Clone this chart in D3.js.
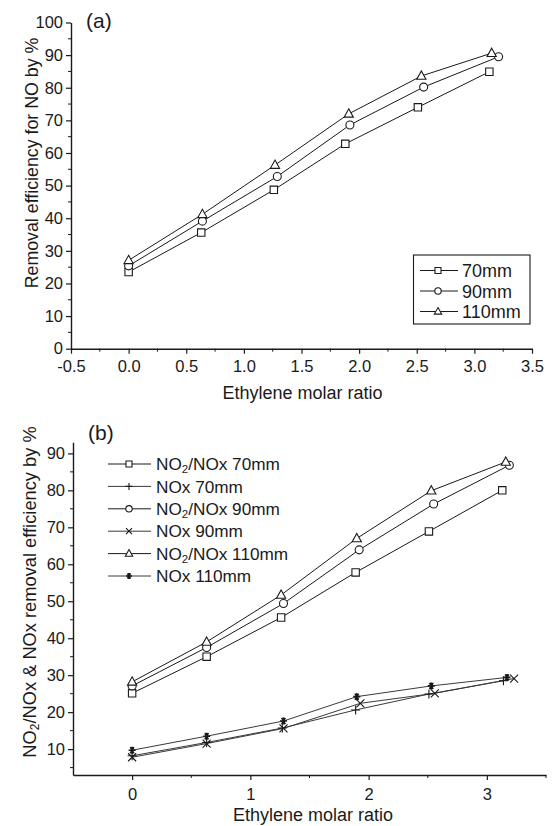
<!DOCTYPE html>
<html>
<head>
<meta charset="utf-8">
<script src="https://cdn.jsdelivr.net/npm/d3@7"></script>
<style>
  html, body { margin: 0; padding: 0; background: #fff; }
  svg { display: block; font-family: "Liberation Sans", Arial, Helvetica, sans-serif; }
</style>
</head>
<body>
<svg id="chart" width="552" height="826"></svg>
<script>
// ---------- Data: panel (a) ----------
const aSeriesNames = ["70mm", "90mm", "110mm"];
const aSymbols = ["square", "circle", "triangle"];
const aX70 = [0, 0.63, 1.26, 1.88, 2.51, 3.13];
const aY70 = [23.5, 35.6, 48.7, 62.8, 74.0, 84.9];
const aX90 = [0, 0.64, 1.29, 1.92, 2.56, 3.21];
const aY90 = [25.4, 39.1, 52.8, 68.6, 80.2, 89.5];
const aX110 = [0, 0.64, 1.27, 1.91, 2.54, 3.15];
const aY110 = [27.1, 41.2, 56.3, 72.0, 83.6, 90.6];
const aXTicks = [-0.5, 0.0, 0.5, 1.0, 1.5, 2.0, 2.5, 3.0, 3.5];
const aYTicks = [0, 10, 20, 30, 40, 50, 60, 70, 80, 90, 100];

// ---------- Data: panel (b) ----------
const bSeriesNames = ["NO2/NOx 70mm", "NOx 70mm", "NO2/NOx 90mm", "NOx 90mm", "NO2/NOx 110mm", "NOx 110mm"];
const bSymbols = ["square", "plus", "circle", "cross", "triangle", "star"];
const bXRatio70 = [0, 0.63, 1.26, 1.89, 2.51, 3.13];
const bYNO2_70 = [25.1, 35.0, 45.6, 57.8, 68.9, 80.0];
const bXNOx70 = [0, 0.63, 1.27, 1.89, 2.51, 3.14];
const bYNOx70 = [8.2, 11.8, 15.7, 20.6, 24.9, 28.5];
const bXRatio90 = [0, 0.63, 1.28, 1.92, 2.55, 3.19];
const bYNO2_90 = [27.1, 37.5, 49.4, 63.9, 76.3, 86.8];
const bXNOx90 = [0, 0.63, 1.28, 1.93, 2.56, 3.23];
const bYNOx90 = [7.8, 11.5, 15.6, 22.4, 25.1, 29.1];
const bXRatio110 = [0, 0.63, 1.26, 1.90, 2.53, 3.16];
const bYNO2_110 = [28.2, 39.0, 51.7, 67.0, 79.9, 87.7];
const bXNOx110 = [0, 0.63, 1.28, 1.90, 2.53, 3.17];
const bYNOx110 = [9.7, 13.5, 17.6, 24.2, 27.1, 29.4];
const bXTicks = [0, 1, 2, 3];
const bYTicks = [10, 20, 30, 40, 50, 60, 70, 80, 90];

const svg = d3.select("#chart");
const ink = "#1a1a1a";
const FONT = "'Liberation Sans', Arial, sans-serif";

function markerPath(type) {
  switch (type) {
    case "square": return "M-3.7,-3.7H3.7V3.7H-3.7Z";
    case "circle": return "M4,0A4,4 0 1,1 -4,0A4,4 0 1,1 4,0Z";
    case "triangle": return "M0,-5L4.6,3.3H-4.6Z";
    case "plus": return "M-4.5,0H4.5M0,-4.5V4.5";
    case "cross": return "M-4,-4L4,4M-4,4L4,-4";
    case "star": return "M-3.5,0H3.5M-1.8,-3.1L1.8,3.1M-1.8,3.1L1.8,-3.1M0,-3.5V3.5";
  }
}
function smallMarkerPath(type) {
  switch (type) {
    case "square": return "M-3,-3H3V3H-3Z";
    case "circle": return "M3.2,0A3.2,3.2 0 1,1 -3.2,0A3.2,3.2 0 1,1 3.2,0Z";
    case "triangle": return "M0,-4L3.7,2.6H-3.7Z";
    case "plus": return "M-3.5,0H3.5M0,-3.5V3.5";
    case "cross": return "M-3,-3L3,3M-3,3L3,-3";
    case "star": return "M-3,0H3M-1.5,-2.6L1.5,2.6M-1.5,2.6L1.5,-2.6M0,-3V3";
  }
}
function drawMarker(g, type, x, y, small) {
  const filled = (type === "square" || type === "circle" || type === "triangle");
  g.append("path")
    .attr("d", small ? smallMarkerPath(type) : markerPath(type))
    .attr("transform", `translate(${x},${y})`)
    .attr("fill", filled ? "#fff" : "none")
    .attr("stroke", ink)
    .attr("stroke-width", type === "star" ? 1.6 : 1.1);
}

function styleAxis(g) {
  g.selectAll("path.domain").attr("stroke", ink).attr("stroke-width", 1.4);
  g.selectAll(".tick line").attr("stroke", ink).attr("stroke-width", 1.2);
  g.selectAll(".tick text").attr("fill", ink).style("font-family", FONT).attr("font-size", 16.5);
}

// ================= Panel (a) =================
{
  const x = d3.scaleLinear().domain([-0.5, 3.5]).range([71, 532]);
  const y = d3.scaleLinear().domain([0, 100]).range([348.7, 22.5]);
  const g = svg.append("g");

  const xMinor = d3.range(-0.25, 3.5, 0.5);
  const yMinor = d3.range(5, 100, 10);
  g.append("g").selectAll("line").data(xMinor).join("line")
    .attr("x1", d => x(d)).attr("x2", d => x(d))
    .attr("y1", y(0)).attr("y2", y(0) + 3)
    .attr("stroke", ink).attr("stroke-width", 1);
  g.append("g").selectAll("line").data(yMinor).join("line")
    .attr("x1", x(-0.5) - 3).attr("x2", x(-0.5))
    .attr("y1", d => y(d)).attr("y2", d => y(d))
    .attr("stroke", ink).attr("stroke-width", 1);

  const xAxis = g.append("g").attr("transform", `translate(0,${y(0)})`)
    .call(d3.axisBottom(x).tickValues(aXTicks).tickFormat(d => d.toFixed(1)).tickSize(5).tickSizeOuter(0));
  styleAxis(xAxis);
  xAxis.selectAll(".tick text").attr("dy", "0.95em");
  const yAxis = g.append("g").attr("transform", `translate(${x(-0.5)},0)`)
    .call(d3.axisLeft(y).tickValues(aYTicks).tickSize(5).tickSizeOuter(0));
  styleAxis(yAxis);

  const series = [
    { xs: aX70, ys: aY70 },
    { xs: aX90, ys: aY90 },
    { xs: aX110, ys: aY110 }
  ];
  const line = d3.line().x(d => x(d[0])).y(d => y(d[1]));
  series.forEach((s) => {
    const pts = s.xs.map((v, k) => [v, s.ys[k]]);
    g.append("path").attr("d", line(pts)).attr("fill", "none")
      .attr("stroke", ink).attr("stroke-width", 1);
  });
  series.forEach((s, i) => {
    s.xs.forEach((v, k) => drawMarker(g, aSymbols[i], x(v), y(s.ys[k]), false));
  });

  g.append("text").attr("x", 86).attr("y", 28).attr("font-size", 21).attr("fill", ink).text("(a)");

  g.append("text").attr("transform", `translate(38,163) rotate(-90)`)
    .attr("text-anchor", "middle").attr("font-size", 17.8).attr("fill", ink)
    .text("Removal efficiency for NO by %");
  g.append("text").attr("x", 302.5).attr("y", 398.5).attr("text-anchor", "middle")
    .attr("font-size", 18).attr("fill", ink).text("Ethylene molar ratio");

  const lg = g.append("g");
  lg.append("rect").attr("x", 413.5).attr("y", 255).attr("width", 116.5).attr("height", 69)
    .attr("fill", "#fff").attr("stroke", ink).attr("stroke-width", 1.1);
  aSeriesNames.forEach((name, i) => {
    const cy = 270.5 + i * 20.5;
    lg.append("line").attr("x1", 420).attr("x2", 458).attr("y1", cy).attr("y2", cy)
      .attr("stroke", ink).attr("stroke-width", 1);
    drawMarker(lg, aSymbols[i], 438, cy, true);
    lg.append("text").attr("x", 462).attr("y", cy + 6.5).attr("font-size", 18)
      .attr("fill", ink).text(name);
  });
}

// ================= Panel (b) =================
{
  const x = d3.scaleLinear().domain([-0.5, 3.5]).range([73, 546]);
  const y = d3.scaleLinear().domain([3, 93]).range([775, 442.3]);
  const g = svg.append("g");

  const xMinor = [0.5, 1.5, 2.5, 3.5];
  const yMinor = d3.range(5, 93, 10);
  g.append("g").selectAll("line").data(xMinor).join("line")
    .attr("x1", d => x(d)).attr("x2", d => x(d))
    .attr("y1", y(3)).attr("y2", y(3) + 3)
    .attr("stroke", ink).attr("stroke-width", 1);
  g.append("g").selectAll("line").data(yMinor).join("line")
    .attr("x1", x(-0.5) - 3).attr("x2", x(-0.5))
    .attr("y1", d => y(d)).attr("y2", d => y(d))
    .attr("stroke", ink).attr("stroke-width", 1);

  const xAxis = g.append("g").attr("transform", `translate(0,${y(3)})`)
    .call(d3.axisBottom(x).tickValues(bXTicks).tickFormat(d3.format("d")).tickSize(5).tickSizeOuter(0));
  styleAxis(xAxis);
  xAxis.selectAll(".tick text").attr("dy", "1em");
  const yAxis = g.append("g").attr("transform", `translate(${x(-0.5)},0)`)
    .call(d3.axisLeft(y).tickValues(bYTicks).tickSize(5).tickSizeOuter(0));
  styleAxis(yAxis);

  const series = [
    { xs: bXRatio70, ys: bYNO2_70 },
    { xs: bXNOx70, ys: bYNOx70 },
    { xs: bXRatio90, ys: bYNO2_90 },
    { xs: bXNOx90, ys: bYNOx90 },
    { xs: bXRatio110, ys: bYNO2_110 },
    { xs: bXNOx110, ys: bYNOx110 }
  ];
  const line = d3.line().x(d => x(d[0])).y(d => y(d[1]));
  series.forEach((s, i) => {
    const pts = s.xs.map((v, k) => [v, s.ys[k]]);
    g.append("path").attr("d", line(pts)).attr("fill", "none")
      .attr("stroke", i % 2 === 1 ? "#3a3a3a" : ink).attr("stroke-width", 1);
  });
  series.forEach((s, i) => {
    s.xs.forEach((v, k) => drawMarker(g, bSymbols[i], x(v), y(s.ys[k]), false));
  });

  g.append("text").attr("x", 88).attr("y", 440).attr("font-size", 21).attr("fill", ink).text("(b)");

  const yt = g.append("text").attr("transform", `translate(36,592) rotate(-90)`)
    .attr("text-anchor", "middle").attr("font-size", 18.3).attr("fill", ink);
  yt.append("tspan").text("NO");
  yt.append("tspan").attr("font-size", 12).attr("dy", 3).text("2");
  yt.append("tspan").attr("dy", -3).text("/NOx & NOx removal efficiency by %");

  g.append("text").attr("x", 313).attr("y", 821).attr("text-anchor", "middle")
    .attr("font-size", 18).attr("fill", ink).text("Ethylene molar ratio");

  bSeriesNames.forEach((name, i) => {
    const cy = 464 + i * 22.4;
    g.append("line").attr("x1", 108).attr("x2", 151).attr("y1", cy).attr("y2", cy)
      .attr("stroke", i % 2 === 1 ? "#3a3a3a" : ink).attr("stroke-width", 1);
    drawMarker(g, bSymbols[i], 129, cy, true);
    const t = g.append("text").attr("x", 156).attr("y", cy + 6.2).attr("font-size", 17.2).attr("fill", ink);
    if (name.startsWith("NO2")) {
      t.append("tspan").text("NO");
      t.append("tspan").attr("font-size", 11.5).attr("dy", 3).text("2");
      t.append("tspan").attr("dy", -3).text(name.slice(3));
    } else {
      t.text(name);
    }
  });
}
</script>
</body>
</html>
